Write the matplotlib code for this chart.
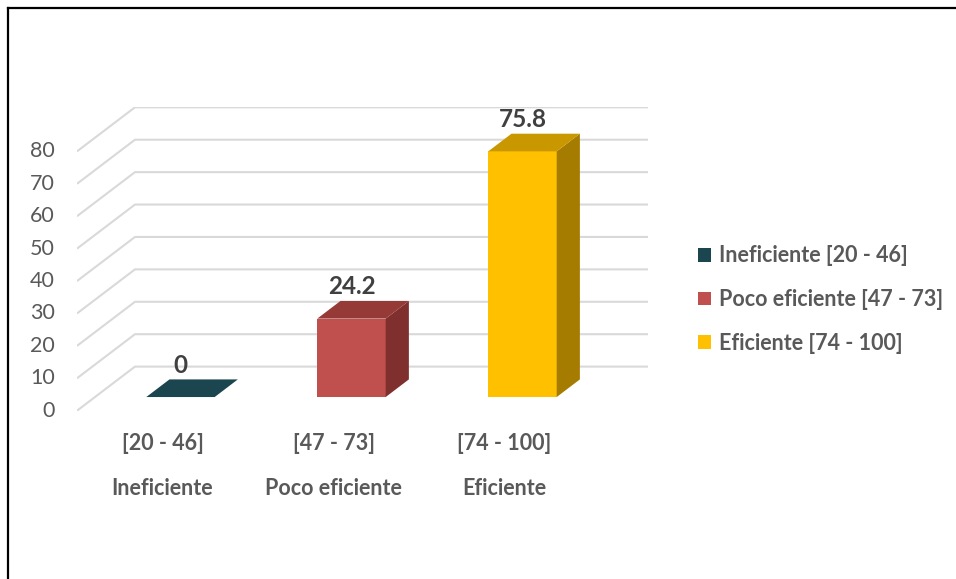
import matplotlib.pyplot as plt
from matplotlib.patches import Polygon, Patch
from matplotlib.lines import Line2D

plt.rcParams['font.family'] = ['Lato', 'DejaVu Sans']

# Data
ranges = ['[20 - 46]', '[47 - 73]', '[74 - 100]']
levels = ['Ineficiente', 'Poco eficiente', 'Eficiente']
values = [0, 24.2, 75.8]
y_ticks = [0, 10, 20, 30, 40, 50, 60, 70, 80]

front_colors = ['#1B4650', '#C0504D', '#FFC000']
top_colors = ['#1B4650', '#953A37', '#C99700']
side_colors = ['#163A42', '#7F2F2D', '#A67C00']

# fake 3D: offset of the back wall in data units
DX = 0.339
DY = 13.6
D_FRONT, D_BACK = 0.31, 0.71
HALF_W = 0.2

fig = plt.figure(figsize=(9.56, 5.79), dpi=100)
W, H = 956, 579
ax = fig.add_axes([77 / W, (H - 410.7) / H, 571 / W, 303.4 / H])
ax.set_xlim(-0.5, 2.5 + DX)
ax.set_ylim(0, 80 + DY)
ax.axis('off')


def proj(x, y, d):
    return (x + d * DX, y + d * DY)


# side wall + back wall gridlines
grid_kw = dict(color='#D9D9D9', lw=1.5, solid_capstyle='butt', zorder=1)
for v in y_ticks:
    x0, y0 = proj(-0.5, v, 0)
    x1, y1 = proj(-0.5, v, 1)
    x2, y2 = proj(2.5, v, 1)
    ax.plot([x0, x1, x2], [y0, y1, y2], **grid_kw)
    ax.text(-0.5 - 22 / 171, v, str(v), ha='right', va='center',
            fontsize=15.5, color='#595959', clip_on=False)

# bars
for i, v in enumerate(values):
    xl, xr = i - HALF_W, i + HALF_W
    fbl = proj(xl, 0, D_FRONT)
    fbr = proj(xr, 0, D_FRONT)
    ftl = proj(xl, v, D_FRONT)
    ftr = proj(xr, v, D_FRONT)
    btl = proj(xl, v, D_BACK)
    btr = proj(xr, v, D_BACK)
    bbr = proj(xr, 0, D_BACK)
    if v > 0:
        ax.add_patch(Polygon([fbl, fbr, ftr, ftl], closed=True,
                             fc=front_colors[i], ec='none', zorder=3))
        ax.add_patch(Polygon([fbr, bbr, btr, ftr], closed=True,
                             fc=side_colors[i], ec='none', zorder=3))
    ax.add_patch(Polygon([ftl, ftr, btr, btl], closed=True,
                         fc=top_colors[i], ec='none', zorder=4))
    lx, _ = proj(i, v, D_FRONT)
    _, ly = proj(i, v, D_BACK)
    ax.text(lx, ly + 0.8, f'{v:g}', ha='center', va='bottom',
            fontsize=17.5, fontweight='bold', color='#404040', zorder=5)

# category labels (two lines)
for i in range(len(ranges)):
    ax.text(i, -10.0, ranges[i], ha='center', va='center', fontsize=15.5,
            fontweight='bold', color='#595959', clip_on=False)
    ax.text(i, -24.0, levels[i], ha='center', va='center', fontsize=15.5,
            fontweight='bold', color='#595959', clip_on=False)

# legend
handles = [Patch(fc=c, ec='none') for c in front_colors]
labels = [f'{lv} {r}' for lv, r in zip(levels, ranges)]
fig.legend(handles, labels, loc='upper left',
           bbox_to_anchor=(679 / W, (H - 226) / H), frameon=False,
           prop={'weight': 'bold', 'size': 15.5}, labelcolor='#595959',
           handlelength=0.6, handleheight=0.6, handletextpad=0.35,
           labelspacing=1.05)

# outer frame (top and left edges)
fig.add_artist(Line2D([8.3 / W, 1], [1 - 7.5 / H, 1 - 7.5 / H],
                      color='black', lw=1.6, transform=fig.transFigure))
fig.add_artist(Line2D([8.3 / W, 8.3 / W], [0, 1 - 7.5 / H],
                      color='black', lw=1.6, transform=fig.transFigure))

fig.savefig('out.png', dpi=100, facecolor='white')
